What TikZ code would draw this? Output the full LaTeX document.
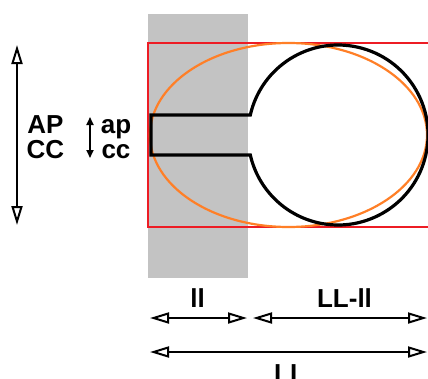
\documentclass[tikz,border=0pt]{standalone}
\usepackage{fontspec}
\setmainfont{Liberation Sans}
\usetikzlibrary{arrows.meta,positioning}
\definecolor{shadegray}{RGB}{195,195,195}
\definecolor{boxred}{RGB}{237,28,36}
\definecolor{ovalorange}{RGB}{255,127,39}

\begin{document}
\begin{tikzpicture}[x=1pt,y=-1pt,
    dimline/.style={line width=2pt,
      {Triangle[open,length=19pt,width=11pt]}-{Triangle[open,length=19pt,width=11pt]}},
    smallarr/.style={line width=1.8pt,{Triangle[length=8pt,width=7pt]}-{Triangle[length=8pt,width=7pt]}},
    txt/.style={font=\fontsize{26}{28}\selectfont\bfseries, inner sep=0pt, anchor=base}]
  \clip (0,0) rectangle (428,378);
  % shaded strip, frame and oval
  \fill[shadegray] (148,14) rectangle (248,278);
  \draw[boxred, line width=2.3pt] (148,43) rectangle (440,227);
  \draw[ovalorange, line width=2.2pt] (288.5,135) ellipse (138.5 and 92);
  % keyhole outline
  \draw[line width=3.2pt, line join=miter]
    (151,115) -- (250.3,115) arc[start angle=192.84, end angle=527.16, radius=90]
    -- (151,155) -- cycle;
  % texts
  \foreach \nm/\x/\y/\t in {AP/45.5/133/AP, CC/45.5/158/CC, ap/116/133/ap, cc/116/158/cc,
      ll/197.5/307/ll, LLll/344.5/307/LL-ll, LL/290/382/LL}
    \node[txt] (\nm) at (\x,\y) {\t};
  % dimension arrows
  \coordinate (APtop) at (17,45);
  \coordinate (APbot) at (17,225);
  \coordinate (aptop) at (90,117);
  \coordinate (apbot) at (90,158);
  \coordinate (llL) at (150,318);
  \coordinate (llR) at (247,318);
  \coordinate (restL) at (253,318);
  \coordinate (restR) at (427,318);
  \coordinate (LLL) at (150,352);
  \coordinate (LLR) at (427,352);
  \draw[dimline] (APtop) -- (APbot);
  \draw[smallarr] (aptop) -- (apbot);
  \draw[dimline] (llL) -- (llR);
  \draw[dimline] (restL) -- (restR);
  \draw[dimline] (LLL) -- (LLR);
\end{tikzpicture}
\end{document}
